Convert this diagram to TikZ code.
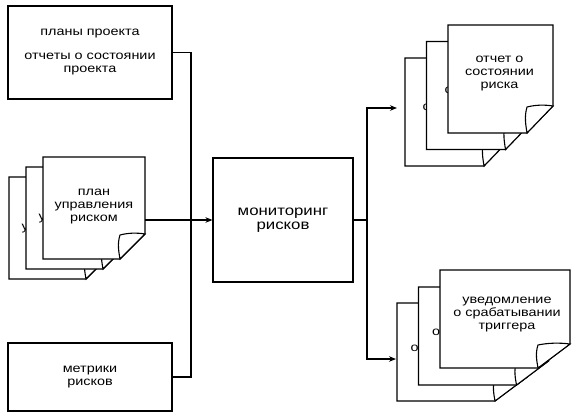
\documentclass[tikz,border=0pt]{standalone}
\usepackage{fontspec}
\setmainfont{Liberation Sans}[FakeStretch=1.2]
\usetikzlibrary{arrows.meta,calc}
% #1 node name, #2 fold width, #3 fold height
\newcommand\pageshape[3]{%
  \filldraw[pageline] (#1.north west) -- (#1.north east) -- ($(#1.south east)+(0,-#3)$)
    -- ($(#1.south east)+(-#2,0)$) -- (#1.south west) -- cycle;
  \filldraw[pageline] ($(#1.south east)+(0,-#3)$)
    .. controls ($(#1.south east)+(-0.35*#2,-#3-1.5)$) and ($(#1.south east)+(-0.7*#2,-#3-1)$)
    .. ($(#1.south east)+(-#2,-#3+1)$)
    .. controls ($(#1.south east)+(-#2-3,-0.6*#3)$) and ($(#1.south east)+(-#2-1,-0.25*#3)$)
    .. ($(#1.south east)+(-#2,0)$) -- cycle;
}
\begin{document}
\begin{tikzpicture}[x=1pt,y=-1pt,line width=1.1pt,
  box/.style={draw,fill=white,inner sep=0pt,align=center,font=\fontsize{12}{13}\selectfont},
  pagenode/.style={inner sep=0pt,outer sep=0pt},
  pageline/.style={draw=black,fill=white,line width=1.1pt,line join=miter},
  txt/.style={align=center,inner sep=0pt,font=\fontsize{12}{13}\selectfont},
  letter/.style={anchor=base west,inner sep=0pt,font=\fontsize{12}{13}\selectfont},
  arr/.style={-{Stealth[length=7pt,width=5.5pt]}}]
\useasboundingbox (0,0) rectangle (580,416);

% left inputs
\node[box,minimum width=164pt,minimum height=93pt] (tl) at (90,52.5)
  {планы проекта\\[11pt]отчеты о состоянии\\проекта};
\node[box,minimum width=164pt,minimum height=68pt] (mt) at (90,377)
  {метрики\\рисков};

% left document stack
\node[pagenode,minimum width=102pt,minimum height=102pt] (pL1) at (60,228) {};
\pageshape{pL1}{25}{25}
\node[letter] (tL1) at (21,230.1) {у};
\node[pagenode,minimum width=102pt,minimum height=102pt] (pL2) at (77,218) {};
\pageshape{pL2}{25}{25}
\node[letter] (tL2) at (38,220.1) {у};
\node[pagenode,minimum width=102pt,minimum height=102pt] (pL3) at (94,208) {};
\pageshape{pL3}{25}{25}
\node[txt] (tL3) at ($(pL3.center)+(0,-1)$) {план\\управления\\риском};

% process
\node[box,minimum width=140pt,minimum height=124pt,font=\fontsize{14}{14}\selectfont] (mon) at (283,220)
  {мониторинг\\рисков};

% top-right document stack
\node[pagenode,minimum width=105pt,minimum height=108pt] (pR1) at (457.5,112) {};
\pageshape{pR1}{26}{27}
\node[letter] (tR1) at (422,110.1) {с};
\node[pagenode,minimum width=105pt,minimum height=108pt] (pR2) at (479,95.5) {};
\pageshape{pR2}{26}{27}
\node[letter] (tR2) at (444,93.6) {с};
\node[pagenode,minimum width=105pt,minimum height=108pt] (pR3) at (500.5,79) {};
\pageshape{pR3}{26}{27}
\node[txt] (tR3) at ($(pR3.center)+(-1,-5)$) {отчет о\\состоянии\\риска};

% bottom-right document stack
\node[pagenode,minimum width=130pt,minimum height=98pt] (pB1) at (462,352) {};
\pageshape{pB1}{32}{24}
\node[letter] (tB1) at (410,351.1) {о};
\node[pagenode,minimum width=130pt,minimum height=98pt] (pB2) at (483.5,336) {};
\pageshape{pB2}{32}{24}
\node[letter] (tB2) at (431.5,335.1) {о};
\node[pagenode,minimum width=130pt,minimum height=98pt] (pB3) at (505,319) {};
\pageshape{pB3}{32}{24}
\node[txt] (tB3) at ($(pB3.center)+(2,-4)$) {уведомление\\о срабатывании\\триггера};

% connectors
\coordinate (jx) at (191,0);
\coordinate (ox) at (367,0);
\coordinate (a1) at (397,108);
\coordinate (a2) at (396,359);
\draw (tl.east) -- (tl.east -| jx) -- (mt.east -| jx) -- (mt.east);
\draw[arr] (pL3.east |- mon.west) -- (mon.west);
\draw (mon.east) -- (mon.east -| ox);
\draw[arr] (mon.east -| ox) |- (a1);
\draw[arr] (mon.east -| ox) |- (a2);
\end{tikzpicture}
\end{document}
